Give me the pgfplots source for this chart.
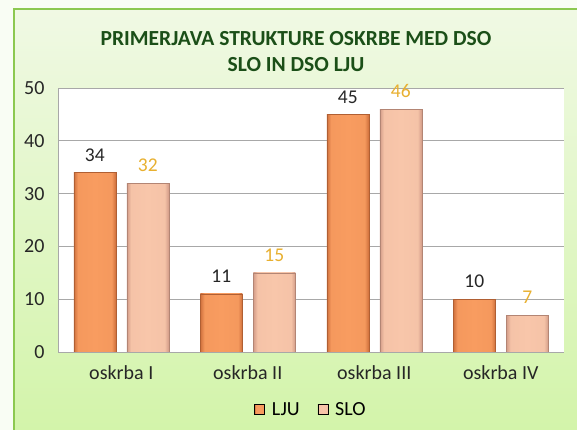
\documentclass[border=0pt]{standalone}
\usepackage{pgfplots}
\pgfplotsset{compat=1.18}
\usepackage{fontspec}
\setmainfont{Carlito}
\definecolor{bgtop}{HTML}{F0F9E4}
\definecolor{bgbot}{HTML}{D3F4AA}
\definecolor{frame}{HTML}{8CC850}
\definecolor{titlegreen}{HTML}{1B4F18}
\definecolor{ljuA}{HTML}{CF703C}
\definecolor{ljuB}{HTML}{F89C60}
\definecolor{sloA}{HTML}{D39C88}
\definecolor{sloB}{HTML}{F8C6AA}
\definecolor{gold}{HTML}{E8B030}
\definecolor{gridgray}{HTML}{A8A8A8}
\pgfdeclarehorizontalshading{ljubevel}{100bp}{color(0bp)=(ljuA); color(25bp)=(ljuA); color(30bp)=(ljuB!92!ljuA); color(50bp)=(ljuB); color(70bp)=(ljuB!92!ljuA); color(75bp)=(ljuA); color(100bp)=(ljuA)}
\pgfdeclarehorizontalshading{slobevel}{100bp}{color(0bp)=(sloA); color(25bp)=(sloA); color(30bp)=(sloB!92!sloA); color(50bp)=(sloB); color(70bp)=(sloB!92!sloA); color(75bp)=(sloA); color(100bp)=(sloA)}
\begin{document}
\begin{tikzpicture}[x=1pt,y=1pt]
\path[use as bounding box] (0,0) rectangle (577,430);
\fill[white!60!bgtop] (0,0) rectangle (577,430);
\shade[top color=bgtop,bottom color=bgbot] (14,0) rectangle (577,421);
\draw[frame,line width=2pt] (14,0) -- (14,421) -- (577,421);
\node[font=\fontsize{21.5}{26}\selectfont\bfseries,text=titlegreen,align=center] at (296,378) {PRIMERJAVA STRUKTURE OSKRBE MED DSO\\SLO IN DSO LJU};
\begin{axis}[
  at={(58pt,78pt)}, anchor=south west,
  width=506pt, height=264pt, scale only axis,
  axis background/.style={fill=white},
  ybar, bar width=42pt,
  xmin=-0.5, xmax=3.5, ymin=0, ymax=50,
  ytick={0,10,20,30,40,50},
  xtick={0,1,2,3},
  xticklabels={oskrba I,oskrba II,oskrba III,oskrba IV},
  ymajorgrids, grid style={gridgray,line width=0.8pt},
  axis x line*=bottom, axis y line*=left,
  axis line style={gridgray,line width=0.8pt},
  major tick length=0pt,
  tick label style={font=\fontsize{20}{23}\selectfont,text=black!85},
  /pgf/number format/assume math mode=true,
  yticklabel style={xshift=-10pt},
  xticklabel style={yshift=-10pt},
  nodes near coords,
  nodes near coords style={font=\fontsize{19.5}{22}\selectfont,anchor=south,inner sep=0pt,yshift=11pt},
  ljustyle/.style={bar shift=-26.5pt, draw=ljuA!85!black, line width=0.4pt,
    shading=ljubevel,
    every node near coord/.append style={text=black!85}},
  slostyle/.style={bar shift=26.5pt, draw=sloA!85!black, line width=0.4pt,
    shading=slobevel,
    every node near coord/.append style={text=gold}},
  legend style={at={(0.5,-0.175)},anchor=north,draw=none,fill=none,
    legend columns=2,font=\fontsize{20}{23}\selectfont,
    /tikz/every even column/.append style={column sep=16pt}},
  legend image code/.code={\shade[#1] (0pt,-5pt) rectangle (10pt,5pt); \path (15pt,0pt);},
]
\addlegendimage{shading=ljubevel}
\addlegendentry{LJU}
\addlegendimage{shading=slobevel}
\addlegendentry{SLO}
\addplot[ljustyle,forget plot] coordinates {(0,34)};
\addplot[ljustyle,forget plot] coordinates {(1,11)};
\addplot[ljustyle,forget plot] coordinates {(2,45)};
\addplot[ljustyle,forget plot] coordinates {(3,10)};
\addplot[slostyle,forget plot] coordinates {(0,32)};
\addplot[slostyle,forget plot] coordinates {(1,15)};
\addplot[slostyle,forget plot] coordinates {(2,46)};
\addplot[slostyle,forget plot] coordinates {(3,7)};
\end{axis}
\end{tikzpicture}
\end{document}
